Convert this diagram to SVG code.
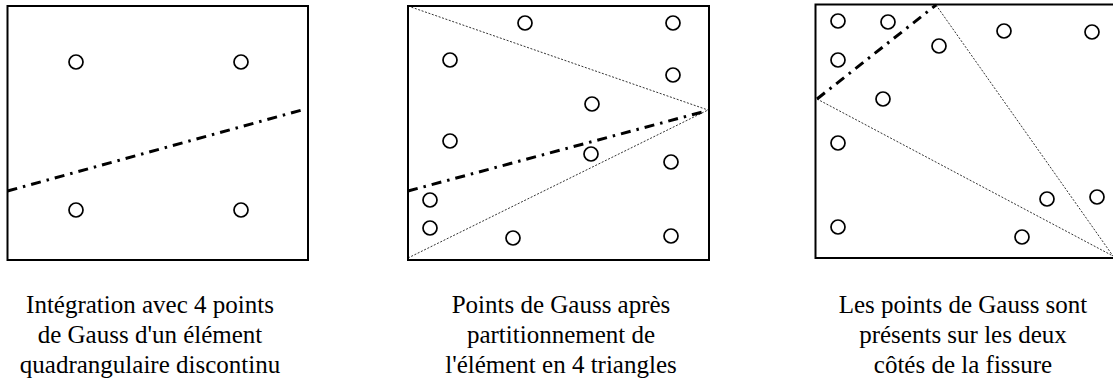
<svg xmlns="http://www.w3.org/2000/svg" width="1113" height="385" viewBox="0 0 1113 385">
<style>
.box{fill:none;stroke:#000;stroke-width:2}
.gp{fill:#fff;stroke:#000;stroke-width:1.7}
.crack{fill:none;stroke:#000;stroke-width:3;stroke-dasharray:10 6 2.5 6}
.sub{fill:none;stroke:#000;stroke-width:0.8;stroke-dasharray:2 1.6}
.cap{font-family:"Liberation Serif","Times New Roman",Times,Tinos,"Noto Serif","DejaVu Serif",FreeSerif,serif;font-size:25px;fill:#000;text-anchor:middle}
</style>
<rect width="1113" height="385" fill="#fff"/>
<g id="panel1">
<rect class="box" x="7.5" y="6" width="300.5" height="254"/>
<circle class="gp" cx="76" cy="62" r="7"/>
<circle class="gp" cx="241" cy="62" r="7"/>
<circle class="gp" cx="76" cy="210" r="7"/>
<circle class="gp" cx="241" cy="210" r="7"/>
<text class="cap" x="150" y="313">Intégration avec 4 points</text>
<text class="cap" x="150" y="343">de Gauss d'un élément</text>
<text class="cap" x="150" y="373">quadrangulaire discontinu</text>
</g>
<g id="panel2">
<rect class="box" x="408" y="6" width="301" height="254"/>
<circle class="gp" cx="525" cy="23" r="7"/>
<circle class="gp" cx="673" cy="23" r="7"/>
<circle class="gp" cx="450" cy="60" r="7"/>
<circle class="gp" cx="673" cy="75" r="7"/>
<circle class="gp" cx="592" cy="104" r="7"/>
<circle class="gp" cx="450" cy="141" r="7"/>
<circle class="gp" cx="591" cy="154" r="7"/>
<circle class="gp" cx="671" cy="162" r="7"/>
<circle class="gp" cx="430" cy="200" r="7"/>
<circle class="gp" cx="430" cy="228" r="7"/>
<circle class="gp" cx="513" cy="238" r="7"/>
<circle class="gp" cx="671" cy="236" r="7"/>
<text class="cap" x="561" y="313">Points de Gauss après</text>
<text class="cap" x="561" y="343">partitionnement de</text>
<text class="cap" x="561" y="373">l'élément en 4 triangles</text>
</g>
<g id="panel3">
<polyline class="box" points="1114,4.5 815.5,4.5 815.5,258 1114,258"/>
<circle class="gp" cx="838" cy="21" r="7"/>
<circle class="gp" cx="888" cy="22" r="7"/>
<circle class="gp" cx="1004" cy="31" r="7"/>
<circle class="gp" cx="1092" cy="32" r="7"/>
<circle class="gp" cx="939" cy="46" r="7"/>
<circle class="gp" cx="838" cy="60" r="7"/>
<circle class="gp" cx="883" cy="99" r="7"/>
<circle class="gp" cx="838" cy="143" r="7"/>
<circle class="gp" cx="1047" cy="199" r="7"/>
<circle class="gp" cx="1097" cy="197" r="7"/>
<circle class="gp" cx="838" cy="227" r="7"/>
<circle class="gp" cx="1022" cy="237" r="7"/>
<text class="cap" x="963" y="313">Les points de Gauss sont</text>
<text class="cap" x="963" y="343">présents sur les deux</text>
<text class="cap" x="963" y="373">côtés de la fissure</text>
</g>
<g id="connectors">
<line class="crack" x1="7.5" y1="191" x2="302" y2="110"/>
<line class="sub" x1="408" y1="6" x2="708" y2="110"/>
<line class="sub" x1="408" y1="258" x2="708" y2="110"/>
<line class="crack" x1="408" y1="191" x2="706" y2="111"/>
<line class="sub" x1="936" y1="5" x2="1113" y2="256"/>
<line class="sub" x1="817" y1="99" x2="1113" y2="256"/>
<line class="crack" x1="817" y1="99" x2="936" y2="5"/>
</g>
</svg>
